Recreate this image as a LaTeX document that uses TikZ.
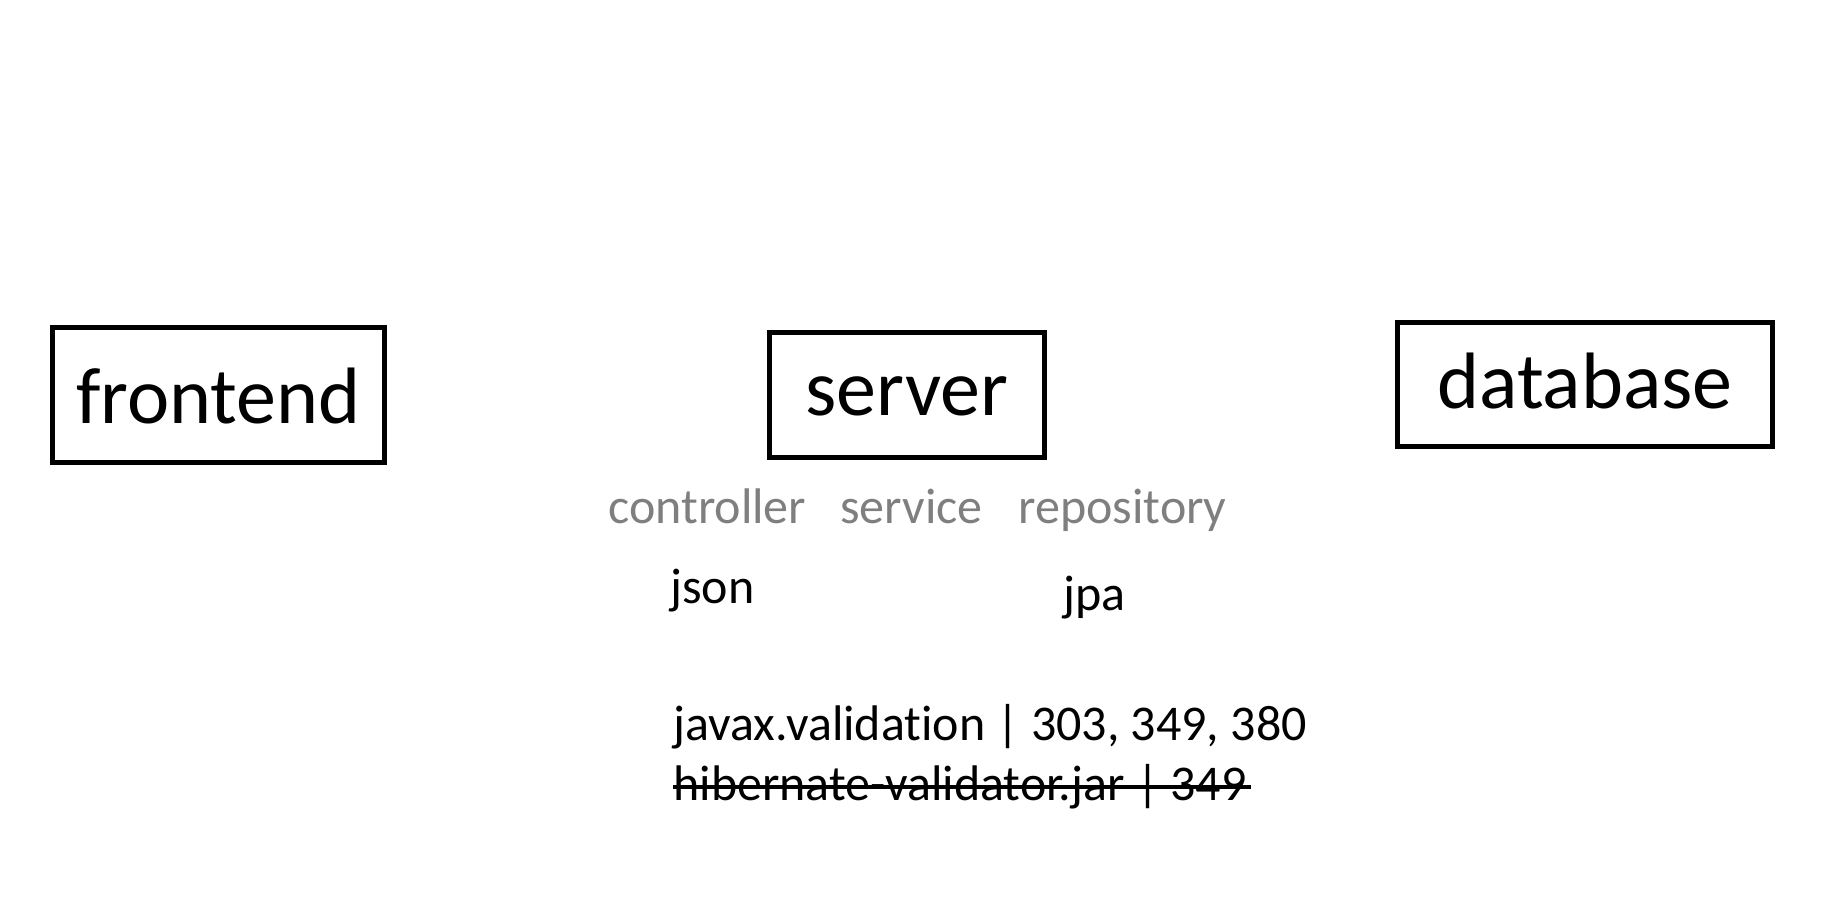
\documentclass[tikz,border=0pt]{standalone}
\usepackage{fontspec}
\setmainfont{Carlito}[Ligatures=NoCommon]
\definecolor{labelgrey}{HTML}{7F7F7F}
\begin{document}
\begin{tikzpicture}[x=0.5pt,y=-0.5pt,
  boxed/.style={draw=black, line width=2.5pt, inner sep=0pt, anchor=base,
    font=\fontsize{40}{48}\selectfont},
  small/.style={font=\fontsize{25}{30}\selectfont, anchor=base west, inner sep=0pt},
  layer/.style={small, text=labelgrey}]
\useasboundingbox (0,0) rectangle (1822,912);
\fill[white] (0,0) rectangle (1822,912);
% boxes
\node[boxed, minimum width=166pt, text height=48pt, text depth=19.5pt] (frontend) at (218.5,423) {frontend};
\node[boxed, minimum width=137.5pt, text height=41.5pt, text depth=21pt] (server) at (907,415) {server};
\node[boxed, minimum width=187.5pt, text height=43pt, text depth=19pt] (database) at (1585,408) {database};
% layer labels
\node[layer] (controller) at (608,523) {controller};
\node[layer] (service) at (840,523) {service};
\node[layer] (repository) at (1018,523) {repository};
% technologies
\node[small] (json) at (670,603) {json};
\node[small] (jpa) at (1063,610) {jpa};
\node[small] (javax) at (673,740) {javax.validation | 303, 349, 380};
\node[small] (hib) at (673,800) {hibernate-validator.jar | 349};
\draw[line width=1.6pt] ([yshift=6.5pt]hib.base west) -- ([yshift=6.5pt,xshift=2pt]hib.base east);
\end{tikzpicture}
\end{document}
